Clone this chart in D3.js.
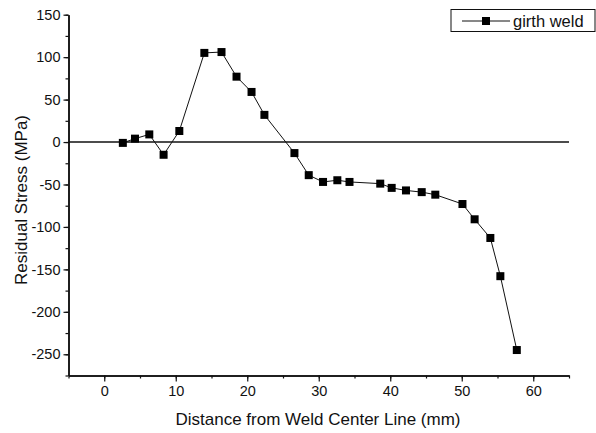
<!DOCTYPE html>
<html>
<head>
<meta charset="utf-8">
<script src="https://cdn.jsdelivr.net/npm/d3@7"></script>
<style>
  body { margin: 0; background: #fff; }
  text { font-family: Arial, "Liberation Sans", sans-serif; fill: #111; }
</style>
</head>
<body>
<div id="scatter"></div>
<script>
// data
var distance = [2.6, 4.3, 6.3, 8.3, 10.5, 14.0, 16.4, 18.5, 20.6, 22.4, 26.6, 28.6, 30.6, 32.6, 34.3,
                38.6, 40.2, 42.2, 44.4, 46.3, 50.1, 51.8, 54.0, 55.4, 57.7];
var stress = [-1, 4, 9, -15, 13, 105, 106, 77, 59, 32, -13, -39, -47, -45, -47,
              -49, -54, -57, -59, -62, -73, -91, -113, -158, -245];
var xTicks = [0, 10, 20, 30, 40, 50, 60];
var yTicks = [-250, -200, -150, -100, -50, 0, 50, 100, 150];
var seriesName = "girth weld";

function Plot() {
    var svgWidth = 596;
    var svgHeight = 433;

    var margin = { top: 14.7, right: 27, bottom: 57.5, left: 68.5 };
    var width = svgWidth - margin.left - margin.right;
    var height = svgHeight - margin.top - margin.bottom;

    var svg = d3.select("#scatter")
        .append("svg")
        .attr("width", svgWidth)
        .attr("height", svgHeight);

    var chart = svg.append("g")
        .attr("transform", `translate(${margin.left}, ${margin.top})`);

    var data = distance.map((d, i) => ({ x: d, y: stress[i] }));

    var xScale = d3.scaleLinear().domain([-5, 65]).range([0, width]);
    var yScale = d3.scaleLinear().domain([-275, 150]).range([height, 0]);

    // minor ticks first
    chart.append("g")
        .attr("transform", `translate(0, ${height})`)
        .call(d3.axisBottom(xScale).tickValues(d3.range(-5, 66, 5)).tickSize(3).tickSizeOuter(0).tickFormat(""));
    chart.append("g")
        .call(d3.axisLeft(yScale).tickValues(d3.range(-275, 151, 25)).tickSize(3).tickSizeOuter(0).tickFormat(""));

    // major ticks, plain hyphen for negatives like the original
    var xAxis = chart.append("g")
        .attr("transform", `translate(0, ${height})`)
        .call(d3.axisBottom(xScale).tickValues(xTicks).tickSize(6).tickSizeOuter(0).tickPadding(4).tickFormat(d => String(d)));
    var yAxis = chart.append("g")
        .call(d3.axisLeft(yScale).tickValues(yTicks).tickSize(5).tickSizeOuter(0).tickPadding(3).tickFormat(d => String(d)));

    chart.selectAll(".domain").attr("stroke", "#111").attr("stroke-width", 1.5);
    chart.selectAll(".tick line").attr("stroke", "#111").attr("stroke-width", 1.2);
    xAxis.selectAll("text").attr("font-size", "14.5px").attr("fill", "#111");
    yAxis.selectAll("text").attr("font-size", "14.5px").attr("fill", "#111");

    // zero line
    chart.append("line")
        .attr("x1", 0)
        .attr("x2", width)
        .attr("y1", yScale(0))
        .attr("y2", yScale(0))
        .attr("stroke", "#111")
        .attr("stroke-width", 1.5);

    var line = d3.line().x(d => xScale(d.x)).y(d => yScale(d.y));
    chart.append("path")
        .datum(data)
        .attr("d", line)
        .attr("fill", "none")
        .attr("stroke", "#111")
        .attr("stroke-width", 1);

    var size = 8;
    chart.selectAll("rect.marker")
        .data(data)
        .enter()
        .append("rect")
        .attr("class", "marker")
        .attr("x", d => xScale(d.x) - size / 2)
        .attr("y", d => yScale(d.y) - size / 2)
        .attr("width", size)
        .attr("height", size)
        .attr("fill", "#000");

    // axis titles
    svg.append("text")
        .attr("transform", "rotate(-90)")
        .attr("x", -200)
        .attr("y", 27)
        .attr("text-anchor", "middle")
        .attr("font-size", "17px")
        .text("Residual Stress (MPa)");

    svg.append("text")
        .attr("x", 318)
        .attr("y", 425)
        .attr("text-anchor", "middle")
        .attr("font-size", "17px")
        .text("Distance from Weld Center Line (mm)");

    // legend
    var legend = svg.append("g");
    legend.append("rect")
        .attr("x", 451)
        .attr("y", 9.5)
        .attr("width", 144)
        .attr("height", 22)
        .attr("fill", "#fff")
        .attr("stroke", "#111")
        .attr("stroke-width", 1);
    legend.append("line")
        .attr("x1", 462)
        .attr("x2", 510)
        .attr("y1", 21)
        .attr("y2", 21)
        .attr("stroke", "#111")
        .attr("stroke-width", 1);
    legend.append("rect")
        .attr("x", 482)
        .attr("y", 17)
        .attr("width", 8)
        .attr("height", 8)
        .attr("fill", "#000");
    legend.append("text")
        .attr("x", 513)
        .attr("y", 27)
        .attr("font-size", "16.5px")
        .text(seriesName);
}

Plot();
</script>
</body>
</html>
